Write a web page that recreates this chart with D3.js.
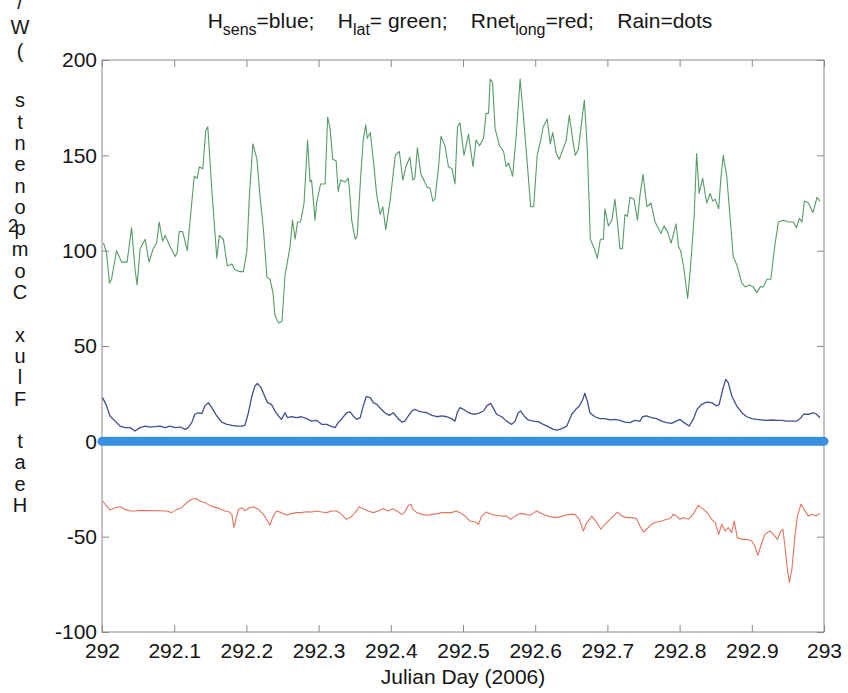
<!DOCTYPE html>
<html>
<head>
<meta charset="utf-8">
<script src="https://cdn.jsdelivr.net/npm/d3@7"></script>
<style>
  body { margin: 0; background: #fff; }
  text { font-family: "Liberation Sans", Arial, Helvetica, sans-serif; fill: #151515; }
</style>
</head>
<body>
<svg id="chart" width="848" height="693"></svg>
<script>
// Day of year 292, 2006; times are minutes after 00:00.
const startDay = 292;

// Latent heat flux (W/m^2)
const latMin = [3,9,15,19,29,39,50,59,66,70,76,86,94,102,109,114,121,126,136,146,150,154,161,170,184,190,194,201,207,211,219,229,234,242,250,259,265,275,282,289,294,301,309,315,322,329,335,341,345,352,359,365,375,380,385,390,396,403,410,415,418,425,428,436,445,450,455,460,467,471,476,485,491,493,498,505,509,516,521,526,529,535,541,548,555,560,566,575,585,593,600,606,614,620,624,629,636,642,649,654,660,664,671,676,684,691,698,704,709,714,722,731,740,746,753,761,766,771,774,779,784,793,801,806,811,819,826,834,841,849,855,861,868,875,880,888,894,899,906,912,919,926,932,939,944,950,962,968,974,982,988,994,1000,1003,1010,1017,1023,1028,1033,1038,1043,1048,1053,1061,1068,1073,1079,1087,1095,1103,1115,1121,1128,1135,1145,1150,1154,1161,1168,1174,1181,1186,1191,1198,1206,1213,1218,1223,1230,1234,1239,1246,1259,1267,1276,1283,1291,1299,1306,1313,1319,1326,1334,1341,1349,1359,1369,1379,1385,1391,1396,1401,1409,1418,1426,1432];
const latFlux = [104,99,83,85,100,94,94,112,90,82,101,106,94,101,104,115,105,108,102,97,99,110,110,100,139,138,144,143,163,165,132,96,108,106,92,93,90,89,89,100,129,156,148,129,111,86,85,78,66,62,63,87,102,116,106,115,115,125,158,136,137,116,125,135,135,170,164,148,147,131,137,136,138,134,116,106,108,139,158,166,159,162,148,129,119,123,111,127,150,152,137,144,149,137,138,154,140,137,133,133,126,127,143,160,155,144,143,135,165,167,150,161,144,158,155,159,172,172,190,188,164,155,152,144,146,139,160,190,169,143,123,123,150,158,165,169,156,162,151,148,153,158,171,158,150,153,179,153,106,101,96,106,106,122,113,116,127,115,101,101,119,118,128,127,116,129,140,123,125,115,109,113,110,104,114,102,100,90,75,92,118,151,130,138,125,130,126,127,122,137,150,139,97,92,83,81,82,81,78,81,81,85,85,101,115,116,115,115,112,117,115,126,125,120,128,126];

// Sensible heat flux (W/m^2)
const sensMin = [1,8,16,26,36,46,56,66,76,86,96,106,116,126,136,146,156,166,172,179,185,192,199,205,212,219,229,239,249,259,269,279,285,292,299,305,310,317,323,330,338,345,352,358,365,370,378,388,398,408,418,428,438,448,456,465,471,480,488,495,501,508,515,521,527,535,541,548,556,564,573,581,589,598,604,611,618,624,631,638,648,658,668,678,688,697,704,709,714,721,731,741,751,761,767,775,780,787,797,807,817,824,830,835,842,850,860,870,880,890,900,908,917,927,937,945,952,959,963,968,973,983,993,1003,1013,1023,1033,1043,1053,1063,1073,1078,1086,1096,1106,1116,1126,1136,1145,1153,1161,1171,1179,1187,1196,1206,1216,1226,1231,1238,1244,1249,1256,1266,1276,1286,1296,1306,1316,1326,1336,1346,1356,1366,1376,1386,1394,1399,1409,1419,1425,1432];
const sensFlux = [22.9,19.4,13.3,10.6,8,7.2,7.2,5.4,7.2,8,7.5,7.7,8,7.2,8,7.2,7.5,6.3,7.2,9.8,14.2,15,14.5,18.5,20.3,17.7,13.3,10.1,8.9,8.4,8,8,8.4,15,23.8,29,30.4,28.2,24.6,20.3,19.4,15.9,13.3,11.5,15,12.4,12.9,12.4,12.9,11.9,10.6,11,8.9,8.9,8,7.2,9.8,12.4,15,15.4,13.3,11.5,12.4,18.5,23.4,22.9,20.3,19.4,17.1,15,13.6,15,12.4,10.1,10.6,13.3,15.9,16.8,15.9,15.4,15,13.6,12.9,13.3,12.9,11.9,10.6,15.4,17.7,16.8,15,14.2,14.7,15.9,18.5,19.9,17.7,14.2,12.9,10.6,8.9,10.6,15,15.9,13.3,11.2,10.6,10.3,8.9,7.7,6.3,5.9,6.7,8,14.2,16.8,18.5,22,25.2,21.1,15,12.9,11.9,11.9,11.2,11.5,11,10.1,9.8,11,10.6,12.9,13.3,12.4,11.9,10.6,9.8,9.4,10.6,11.5,9.8,8,11.5,16.8,19.4,20.6,20.3,18.5,19.4,27.3,32.5,30.8,23.8,18.5,15,12.9,11.9,11.5,11.2,11,11.2,11,11,10.6,10.6,10.6,12.4,14.2,14.2,15,14.2,12.4];

// Net longwave radiation (W/m^2)
const longMin = [1,9,16,26,36,46,56,66,76,129,139,149,159,169,179,187,195,205,215,225,235,245,254,259,263,267,272,279,285,294,302,312,322,328,335,340,348,358,368,378,388,398,408,418,428,438,448,458,468,478,487,495,505,513,521,531,541,551,561,571,580,588,598,604,611,616,620,628,638,648,658,668,678,688,697,707,714,724,734,744,751,757,766,777,787,797,807,815,824,834,844,854,862,867,874,884,894,904,914,924,933,943,952,960,967,977,987,995,1003,1013,1021,1028,1037,1047,1057,1066,1073,1080,1086,1096,1106,1116,1126,1134,1139,1146,1153,1159,1169,1179,1189,1198,1207,1216,1223,1230,1236,1243,1249,1256,1261,1267,1276,1286,1296,1302,1308,1314,1322,1332,1339,1347,1354,1358,1362,1367,1371,1376,1382,1387,1394,1402,1409,1417,1424,1432];
const longFlux = [-31.3,-33.9,-36,-34.8,-34.3,-35.7,-36.5,-36.5,-36.2,-36.5,-37.4,-35.7,-34.8,-32.1,-30.4,-30,-31.3,-32.1,-33.6,-34.5,-35.3,-36.5,-37.1,-38.3,-45.3,-40.9,-35.7,-34.8,-36.5,-34.8,-34.3,-35.7,-38.3,-40.9,-44,-40,-36.5,-37.4,-38.6,-37.9,-37.4,-37.4,-36.9,-37.1,-36.5,-37.1,-37.4,-36.5,-36.5,-38.3,-40.9,-40,-37.4,-34.3,-35.3,-36.5,-37.4,-36.5,-35.3,-36.5,-35.3,-36.5,-38.3,-37.1,-33.6,-33,-35.7,-37.4,-38.3,-38.8,-38.3,-37.9,-37.4,-37.4,-37.4,-36.5,-37.4,-39.2,-41.8,-42.3,-43.5,-39.2,-37.1,-38.3,-38.8,-39.2,-39.2,-40.9,-39.2,-37.8,-38.3,-38.8,-37.4,-36.5,-37.4,-38.8,-39.5,-40,-39.5,-38.8,-38.3,-38.3,-40.9,-47,-42.6,-39.2,-42.6,-46.1,-43.5,-40.9,-38.8,-37.1,-39.2,-40,-40,-40.5,-44.4,-47.6,-46.1,-43.5,-42.3,-41.8,-40.9,-40.5,-38.3,-39.2,-40.9,-40,-40.9,-38.3,-33.6,-35.3,-37.4,-40.9,-42.6,-48.8,-43.5,-47,-45.3,-47.9,-41.8,-50.5,-51.4,-51.4,-52.3,-54.9,-59.8,-54.9,-48.8,-47,-48.8,-51.4,-47,-46.1,-54.9,-67.1,-74.1,-67.1,-49.7,-39.2,-33,-36.5,-39.2,-38.3,-39.2,-37.8];

// Rain rate, sampled every 5 minutes (no rain fell that day)
const rainStep = 5;
const rainRate = [
  0,0,0,0,0,0,0,0,0,0,0,0,0,0,0,0,0,
  0,0,0,0,0,0,0,0,0,0,0,0,0,0,0,0,0,
  0,0,0,0,0,0,0,0,0,0,0,0,0,0,0,0,0,
  0,0,0,0,0,0,0,0,0,0,0,0,0,0,0,0,0,
  0,0,0,0,0,0,0,0,0,0,0,0,0,0,0,0,0,
  0,0,0,0,0,0,0,0,0,0,0,0,0,0,0,0,0,
  0,0,0,0,0,0,0,0,0,0,0,0,0,0,0,0,0,
  0,0,0,0,0,0,0,0,0,0,0,0,0,0,0,0,0,
  0,0,0,0,0,0,0,0,0,0,0,0,0,0,0,0,0,
  0,0,0,0,0,0,0,0,0,0,0,0,0,0,0,0,0,
  0,0,0,0,0,0,0,0,0,0,0,0,0,0,0,0,0,
  0,0,0,0,0,0,0,0,0,0,0,0,0,0,0,0,0,
  0,0,0,0,0,0,0,0,0,0,0,0,0,0,0,0,0,
  0,0,0,0,0,0,0,0,0,0,0,0,0,0,0,0,0,
  0,0,0,0,0,0,0,0,0,0,0,0,0,0,0,0,0,
  0,0,0,0,0,0,0,0,0,0,0,0,0,0,0,0,0,
  0,0,0,0,0,0,0,0,0,0,0,0,0,0,0,0,0
];

// Axis ticks
const xTicks = [292, 292.1, 292.2, 292.3, 292.4, 292.5, 292.6, 292.7, 292.8, 292.9, 293];
const yTicks = [-100, -50, 0, 50, 100, 150, 200];

const yTitle = "Heat Flux Components (W/m";

const svg = d3.select("#chart");
const L = 102, R = 824, T = 60, B = 632;

const x = d3.scaleLinear().domain([292, 293]).range([L, R]);
const y = d3.scaleLinear().domain([-100, 200]).range([B, T]);

const toDay = m => startDay + m / 1440;

// Axes box with inward ticks on all four sides
const axisColor = "#8a8a8a";
function styleAxis(g) {
  g.select(".domain").remove();
  g.selectAll(".tick line").attr("stroke", axisColor);
  g.selectAll(".tick text").attr("fill", "#151515").style("font-size", "21px")
    .style("font-family", "'Liberation Sans', Arial, sans-serif");
}

svg.append("g").attr("transform", `translate(0,${B})`)
  .call(d3.axisBottom(x).tickValues(xTicks).tickFormat(d => d).tickSizeInner(-7).tickSizeOuter(0).tickPadding(11))
  .call(styleAxis);
svg.append("g").attr("transform", `translate(0,${T})`)
  .call(d3.axisTop(x).tickValues(xTicks).tickFormat("").tickSizeInner(-7).tickSizeOuter(0))
  .call(styleAxis);
svg.append("g").attr("transform", `translate(${L},0)`)
  .call(d3.axisLeft(y).tickValues(yTicks).tickFormat(d => d).tickSizeInner(-7).tickSizeOuter(0).tickPadding(5))
  .call(styleAxis);
svg.append("g").attr("transform", `translate(${R},0)`)
  .call(d3.axisRight(y).tickValues(yTicks).tickFormat("").tickSizeInner(-7).tickSizeOuter(0))
  .call(styleAxis);

svg.append("rect").attr("x", L).attr("y", T).attr("width", R - L).attr("height", B - T)
  .attr("fill", "none").attr("stroke", axisColor).attr("stroke-width", 1);

// Flux series
const line = d3.line().x(d => x(toDay(d[0]))).y(d => y(d[1]));

function drawSeries(mins, vals, color, width) {
  const pts = mins.map((m, i) => [m, vals[i]]);
  svg.append("path").datum(pts).attr("d", line)
    .attr("fill", "none").attr("stroke", color).attr("stroke-width", width)
    .attr("stroke-linejoin", "round");
}
drawSeries(latMin, latFlux, "#569b6a", 1.1);
drawSeries(sensMin, sensFlux, "#43508f", 1.3);
drawSeries(longMin, longFlux, "#e2745f", 1.1);

// Rain as dots
svg.append("g").selectAll("circle").data(rainRate).join("circle")
  .attr("cx", (d, i) => x(toDay(i * rainStep)))
  .attr("cy", d => y(d))
  .attr("r", 4.5)
  .attr("fill", "#3b8fe2");

// Title with subscripts
const title = svg.append("text").attr("x", 460).attr("y", 28)
  .attr("text-anchor", "middle").style("font-size", "21px").style("white-space", "pre");
const parts = [["H", 0], ["sens", 1], ["=blue;    H", 0], ["lat", 1], ["= green;    Rnet", 0], ["long", 1], ["=red;    Rain=dots", 0]];
let prevSub = 0;
parts.forEach(([t, sub]) => {
  const ts = title.append("tspan").text(t);
  if (sub) ts.style("font-size", "16px");
  if (sub !== prevSub) ts.attr("dy", sub ? 7 : -7);
  prevSub = sub;
});

// X label
svg.append("text").attr("x", 463).attr("y", 684).attr("text-anchor", "middle")
  .style("font-size", "21px").text("Julian Day (2006)");

// Y label: upright characters stacked upward
const yLab = svg.append("g");
yTitle.split("").forEach((c, i) => {
  if (c === " ") return;
  const yy = i <= 19 ? 505 - i * 21.3 : 100 - (i - 19) * 24.5;
  yLab.append("text").attr("x", 20).attr("y", yy)
    .attr("text-anchor", "middle").attr("dominant-baseline", "central")
    .style("font-size", "20px").text(c);
});
yLab.append("text").attr("x", 13).attr("y", 226)
  .attr("text-anchor", "middle").attr("dominant-baseline", "central")
  .style("font-size", "18px").text("2");
</script>
</body>
</html>
